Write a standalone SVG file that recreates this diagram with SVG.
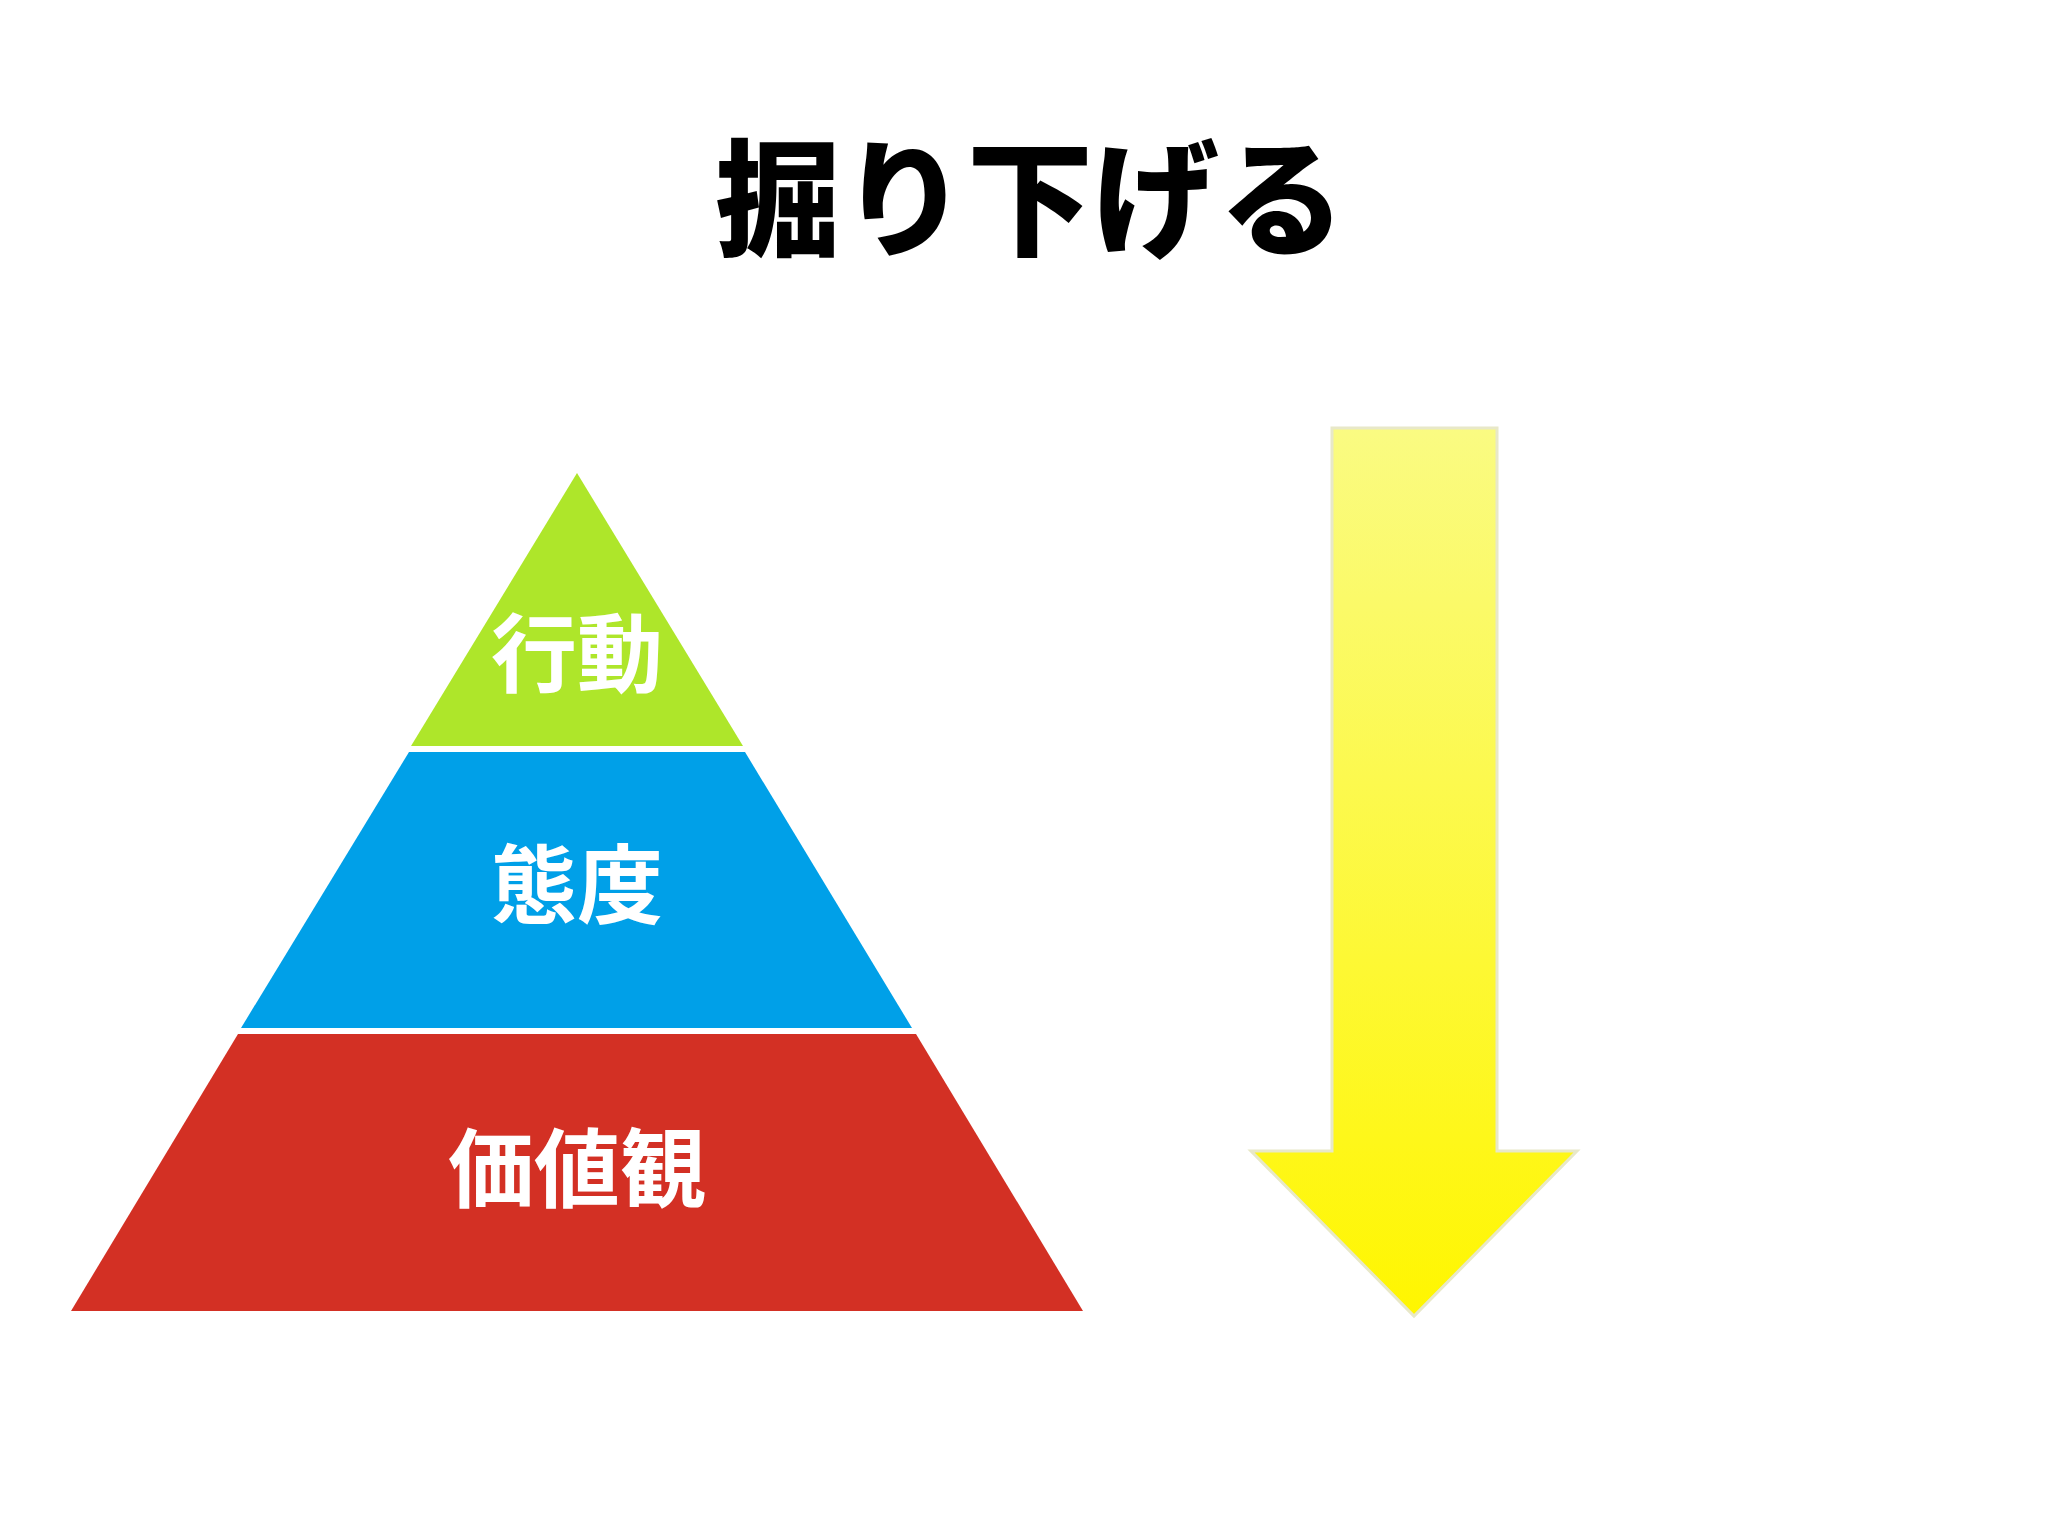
<svg xmlns="http://www.w3.org/2000/svg" width="2048" height="1536" viewBox="0 0 2048 1536">
<defs>
<linearGradient id="yg" x1="0" y1="0" x2="0" y2="1">
<stop offset="0" stop-color="#fafb82"/>
<stop offset="1" stop-color="#fff600"/>
</linearGradient>
<style>
.lbl{font-family:"Noto Sans CJK JP",sans-serif;font-weight:bold;fill:#fff;text-anchor:middle;font-size:86px}
</style>
</defs>
<rect width="2048" height="1536" fill="#fff"/>
<text x="1030" y="246" text-anchor="middle" font-family="Noto Sans CJK JP, sans-serif" font-weight="900" font-size="126" fill="#000">掘り下げる</text>
<g id="level1">
<polygon points="577,473 743,746 411,746" fill="#aee62a"/>
<text class="lbl" x="577" y="686">行動</text>
</g>
<g id="level2">
<polygon points="409,752 745,752 912,1028 241,1028" fill="#00a0e8"/>
<text class="lbl" x="577" y="917">態度</text>
</g>
<g id="level3">
<polygon points="238,1034 916,1034 1083,1311 71,1311" fill="#d33024"/>
<text class="lbl" x="577" y="1201">価値観</text>
</g>
<g id="arrow">
<polygon points="1332,428 1497,428 1497,1151 1577,1151 1414,1316 1251,1151 1332,1151" fill="url(#yg)" stroke="#e8e8c8" stroke-width="3"/>
</g>
<g id="connectors"/>
</svg>
